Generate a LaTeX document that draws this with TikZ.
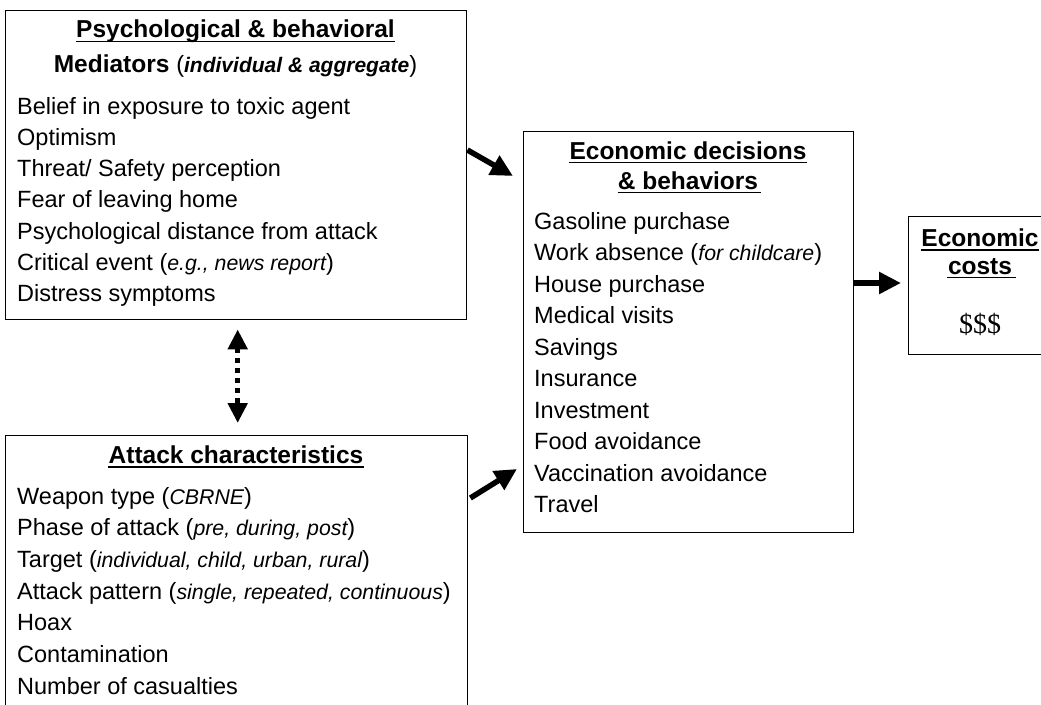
\documentclass[tikz,border=0pt]{standalone}
\usepackage{fontspec}
\setmainfont{Liberation Sans}
\newfontfamily\dollarfont{Liberation Serif}
\usetikzlibrary{arrows.meta,calc}
\newcommand\smit[1]{{\fontsize{21.3}{24}\selectfont\itshape #1}}
\newcommand\smbit[1]{{\fontsize{21}{24}\selectfont\bfseries\itshape #1}}
\newcommand\rp[1]{{\fontsize{23.5}{28}\selectfont\mdseries #1}}
\begin{document}
\begin{tikzpicture}[x=1pt,y=-1pt,
  box/.style={draw,line width=1.4pt,anchor=north west,inner sep=0pt},
  item/.style={anchor=base west,inner sep=0pt,font=\fontsize{23.5}{28}\selectfont},
  hdr/.style={anchor=base,inner sep=0pt,font=\fontsize{24.5}{28}\selectfont\bfseries},
  ul/.style={line width=1.5pt},
  bigarrow/.style={line width=5.5pt,-{Triangle[length=22pt,width=21pt]}},
  dotarrow/.style={line width=5pt,dash pattern=on 5pt off 5pt,
    {Triangle[length=20pt,width=19pt]}-{Triangle[length=20pt,width=19pt]}}]
\useasboundingbox (0,0) rectangle (1041,704);
\clip (0,0) rectangle (1041,704);
\fill[white] (0,0) rectangle (1041,704);

% boxes
\node[box,minimum width=461pt,minimum height=309pt] (psych) at (5,10) {};
\node[box,minimum width=330pt,minimum height=401pt] (econ) at (523,131) {};
\node[box,minimum width=144pt,minimum height=138pt] (cost) at (908,216) {};
\node[box,minimum width=462pt,minimum height=300pt] (attack) at (5,435) {};

% psych box
\node[hdr] (ph1) at (235.5,37.5) {Psychological \& behavioral};
\draw[ul] ([yshift=-4pt]ph1.base west) -- ([yshift=-4pt]ph1.base east);
\node[hdr] (ph2) at (235.5,72.7) {Mediators \rp{(}\smbit{individual \& aggregate}\rp{)}};
\node[item] (p1) at (17,114) {Belief in exposure to toxic agent};
\node[item] (p2) at (17,145.3) {Optimism};
\node[item] (p3) at (17,176.6) {Threat/ Safety perception};
\node[item] (p4) at (17,207.9) {Fear of leaving home};
\node[item] (p5) at (17,239.2) {Psychological distance from attack};
\node[item] (p6) at (17,270.5) {Critical event (\smit{e.g., news report})};
\node[item] (p7) at (17,301.8) {Distress symptoms};

% econ box
\node[hdr] (eh1) at (688,159) {Economic decisions};
\draw[ul] ([yshift=-3.5pt]eh1.base west) -- ([yshift=-3.5pt]eh1.base east);
\node[hdr] (eh2) at (688,189) {\& behaviors};
\draw[ul] ([yshift=-3.5pt]eh2.base west) -- ([yshift=-3.5pt,xshift=3pt]eh2.base east);
\node[item] (e1) at (534,229) {Gasoline purchase};
\node[item] (e2) at (534,260.5) {Work absence (\smit{for childcare})};
\node[item] (e3) at (534,292) {House purchase};
\node[item] (e4) at (534,323.5) {Medical visits};
\node[item] (e5) at (534,355) {Savings};
\node[item] (e6) at (534,386.5) {Insurance};
\node[item] (e7) at (534,418) {Investment};
\node[item] (e8) at (534,449.5) {Food avoidance};
\node[item] (e9) at (534,481) {Vaccination avoidance};
\node[item] (e10) at (534,512.5) {Travel};

% cost box
\node[hdr] (ch1) at (980,246.5) {Economic};
\draw[ul] ([yshift=-3.5pt]ch1.base west) -- ([yshift=-3.5pt]ch1.base east);
\node[hdr] (ch2) at (980,274) {costs};
\draw[ul] ([yshift=-3.5pt,xshift=-1pt]ch2.base west) -- ([yshift=-3.5pt,xshift=4pt]ch2.base east);
\node[anchor=base,inner sep=0pt,font=\dollarfont\fontsize{28}{30}\selectfont] (cd) at (980,333) {\$\$\$};

% attack box
\node[hdr] (ah1) at (236,463.5) {Attack characteristics};
\draw[ul] ([yshift=-3.5pt]ah1.base west) -- ([yshift=-3.5pt]ah1.base east);
\node[item] (a1) at (17,504) {Weapon type (\smit{CBRNE})};
\node[item] (a2) at (17,535.7) {Phase of attack (\smit{pre, during, post})};
\node[item] (a3) at (17,567.4) {Target (\smit{individual, child, urban, rural})};
\node[item] (a4) at (17,599.1) {Attack pattern (\smit{single, repeated, continuous})};
\node[item] (a5) at (17,630.8) {Hoax};
\node[item] (a6) at (17,662.5) {Contamination};
\node[item] (a7) at (17,694.2) {Number of casualties};

% connectors
\draw[bigarrow] ($(psych.north east)+(0,140)$) -- ($(econ.north west)+(-10,45)$);
\draw[bigarrow] ($(attack.north east)+(2,63)$) -- ($(econ.north west)+(-6,338)$);
\draw[bigarrow] ($(econ.north east)+(0,152)$) -- ($(cost.north west)+(-7,67)$);
\draw[dotarrow] ($(psych.south)+(1.5,9)$) -- ($(attack.north)+(1,-12)$);
\end{tikzpicture}
\end{document}
